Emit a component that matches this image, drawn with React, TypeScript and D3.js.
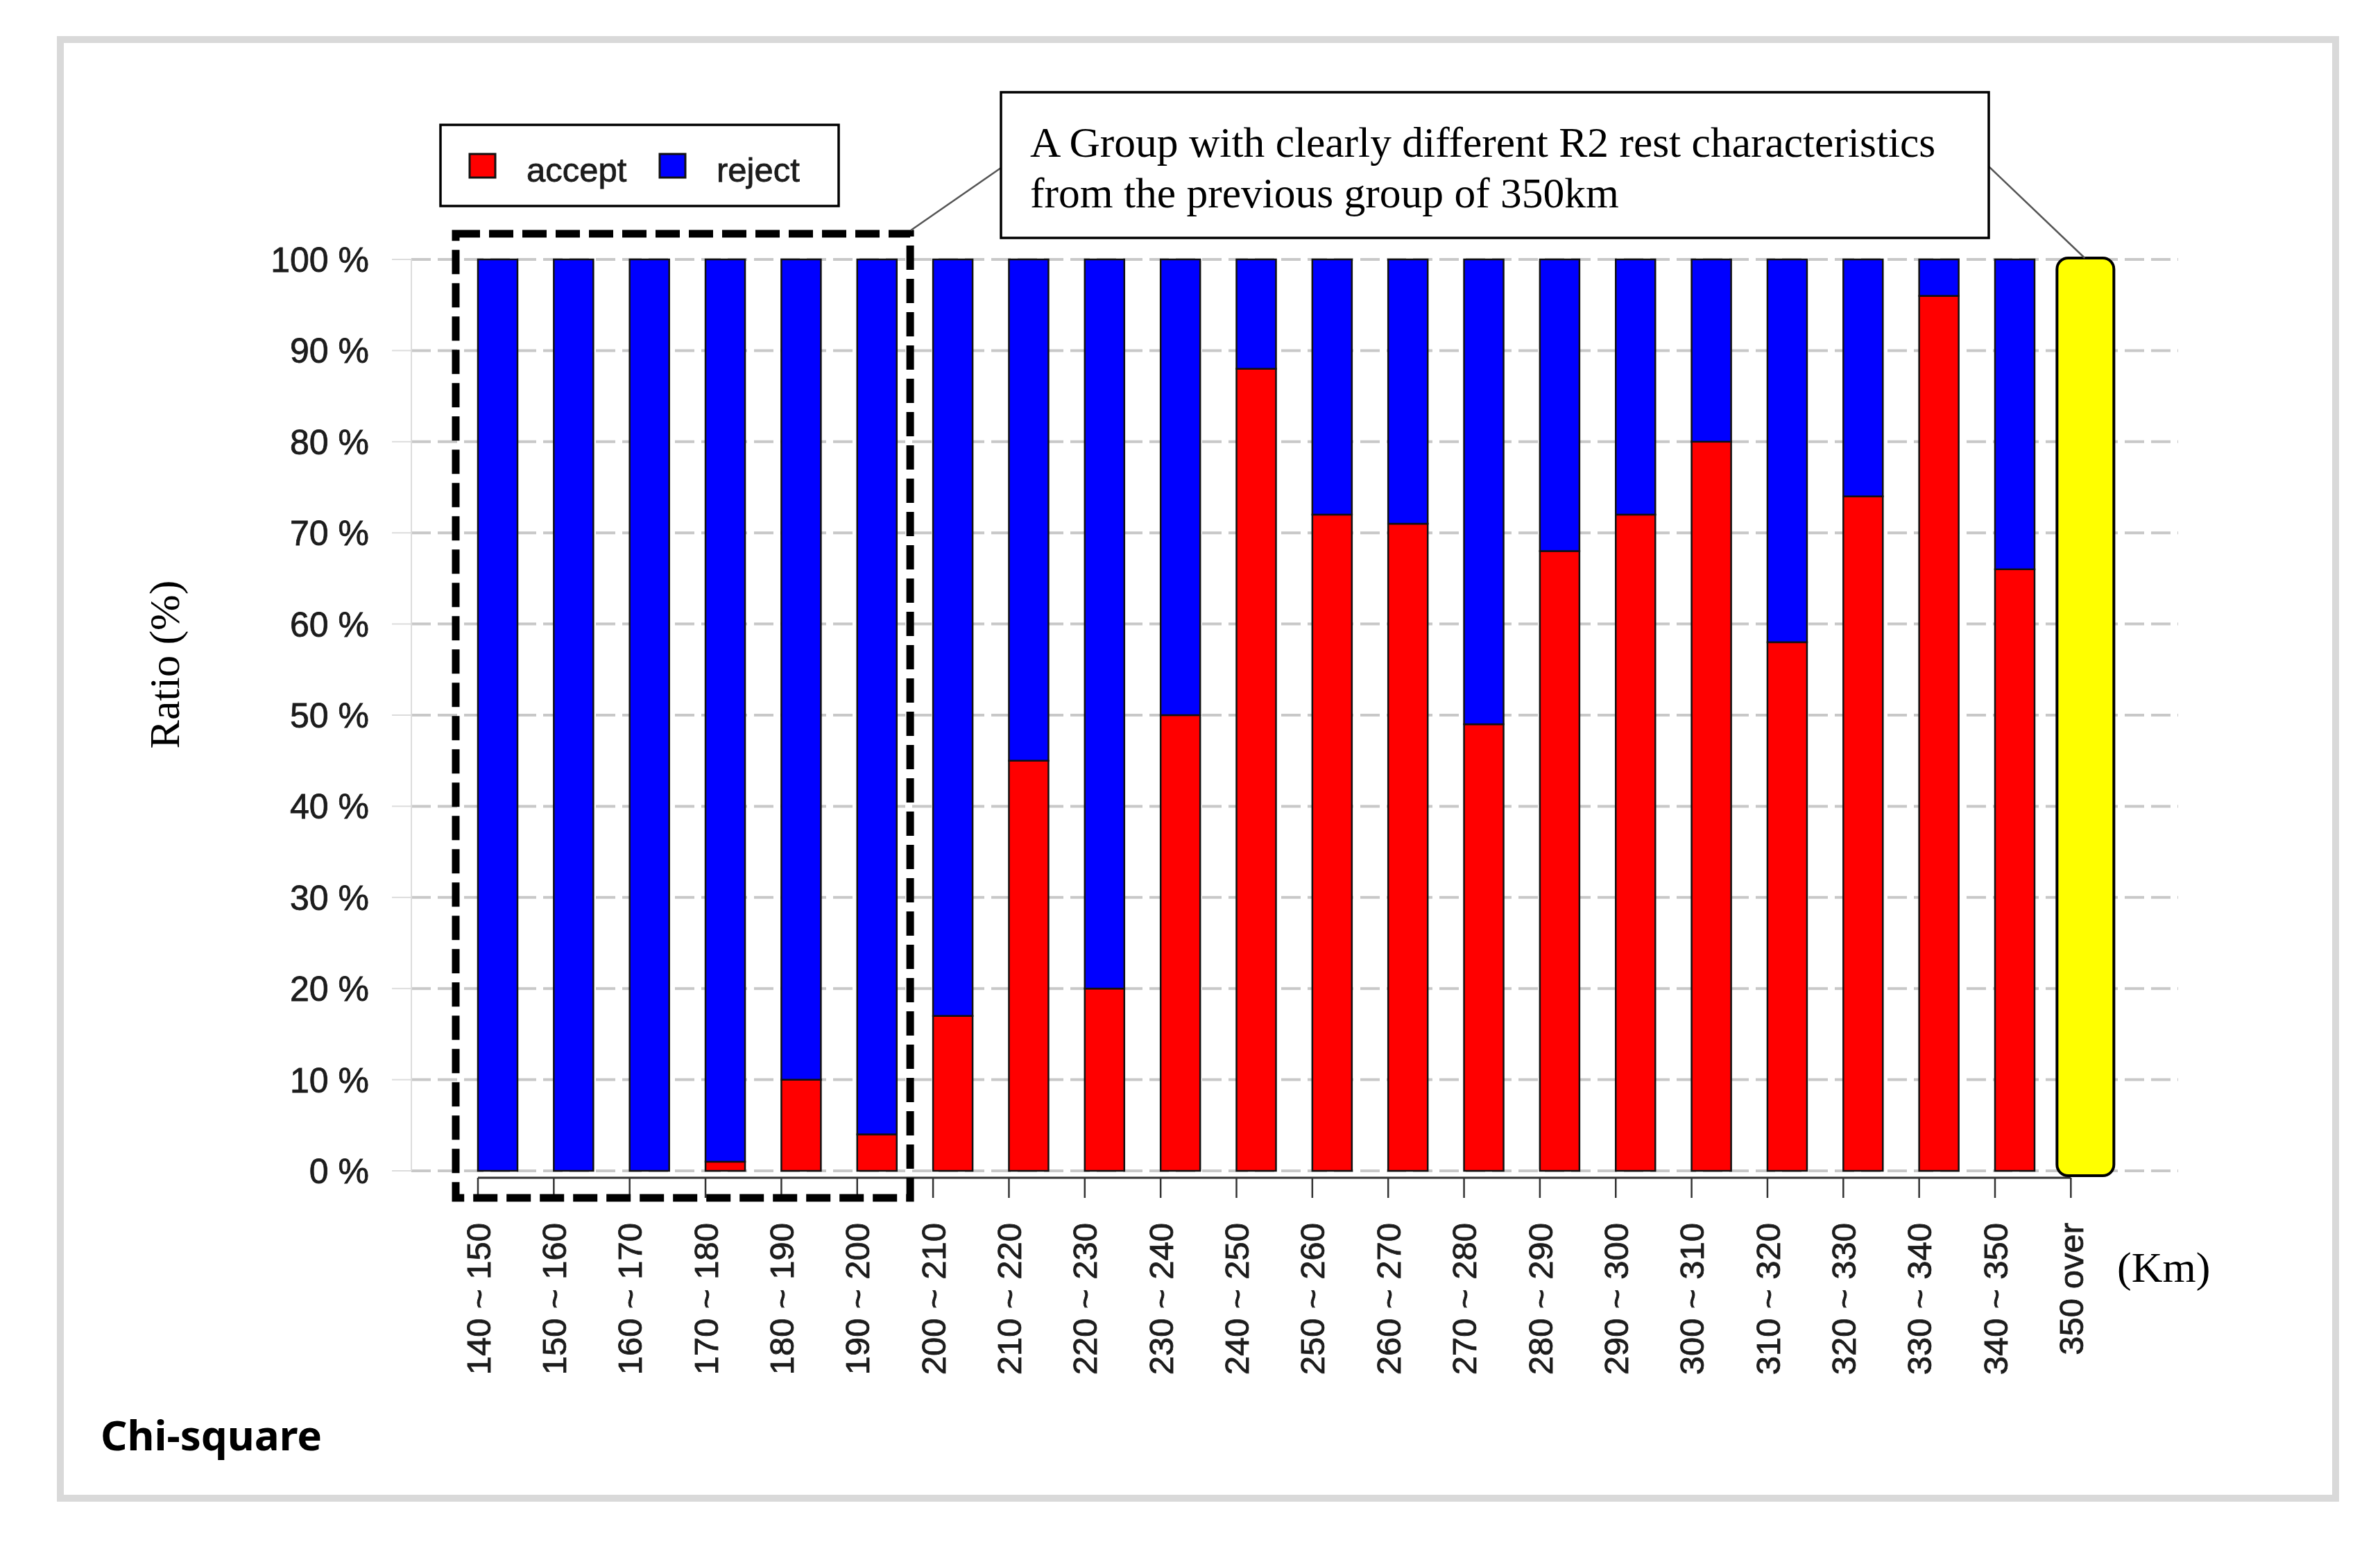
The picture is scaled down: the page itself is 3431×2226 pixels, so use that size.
import React from 'react';
import * as d3 from 'd3';

// distance groups (km) - last one is the highlighted "350 over" group without bar
const categories = [
    '140 ~ 150', '150 ~ 160', '160 ~ 170', '170 ~ 180', '180 ~ 190', '190 ~ 200',
    '200 ~ 210', '210 ~ 220', '220 ~ 230', '230 ~ 240', '240 ~ 250', '250 ~ 260',
    '260 ~ 270', '270 ~ 280', '280 ~ 290', '290 ~ 300', '300 ~ 310', '310 ~ 320',
    '320 ~ 330', '330 ~ 340', '340 ~ 350', '350 over',
];
const acceptPct = [0, 0, 0, 1, 10, 4, 17, 45, 20, 50, 88, 72, 71, 49, 68, 72, 80, 58, 74, 96, 66];
const rejectPct = [100, 100, 100, 99, 90, 96, 83, 55, 80, 50, 12, 28, 29, 51, 32, 28, 20, 42, 26, 4, 34];
const yTicks = [0, 10, 20, 30, 40, 50, 60, 70, 80, 90, 100];
const seriesKeys = ['accept', 'reject'];
const seriesColors = ['#ff0000', '#0000ff'];
const noteLines = [
    'A Group with clearly different R2 rest characteristics',
    'from the previous group of 350km',
];

const W = 3431;
const H = 2226;
const SANS = '"Liberation Sans", Arial, sans-serif';
const SERIF = '"Liberation Serif", "Times New Roman", serif';
const INK = '#1c1c1c';

const App: React.FC = () => {
    const step = 109.35;
    const barW = 57;
    const pad = 1 - barW / step;
    const x0 = 689;
    const x = d3.scaleBand<string>()
        .domain(categories)
        .range([x0, x0 + step * (categories.length - pad)])
        .paddingInner(pad)
        .paddingOuter(0);

    const y = d3.scaleLinear().domain([0, 100]).range([1688, 374]);

    const rows = acceptPct.map((a, i) => ({ cat: categories[i], accept: a, reject: rejectPct[i] }));
    const stacked = d3.stack<any>().keys(seriesKeys)(rows);

    const axisX = 593;
    const gridRight = 3140;
    const xAxisY = y(0) + 10;
    const lastCat = categories[categories.length - 1];
    const first = x(categories[0])!;
    const seventh = x(categories[6])!;
    const last = x(lastCat)!;

    const boxL = first - 32;
    const boxR = seventh - 33;
    const boxT = y(100) - 37;
    const boxB = xAxisY + 29;

    const note = { x: 1443, y: 133, w: 1424, h: 210 };
    const legend = { x: 635, y: 180, w: 574, h: 117 };

    return (
        <svg width={W} height={H} style={{ position: 'absolute', left: 0, top: 0, background: '#fff' }}>
            <rect x={87} y={57} width={3280} height={2103} fill="#fff" stroke="#d9d9d9" strokeWidth={10} />

            {/* grid + y axis */}
            {yTicks.map(t => (
                <g key={t}>
                    <line x1={axisX} x2={gridRight} y1={y(t)} y2={y(t)}
                        stroke="#c8c8c8" strokeWidth={4} strokeDasharray="28 10" />
                    <line x1={565} x2={axisX} y1={y(t)} y2={y(t)} stroke="#dcdcdc" strokeWidth={2} />
                    <text x={532} y={y(t)} dy="0.36em" textAnchor="end"
                        fontFamily={SANS} fontSize={50} fill={INK} stroke={INK} strokeWidth={0.8}>{`${t} %`}</text>
                </g>
            ))}
            <line x1={axisX} x2={axisX} y1={y(100)} y2={y(0)} stroke="#dcdcdc" strokeWidth={2} />

            {/* stacked bars */}
            {stacked.map((s, si) => (
                <g key={s.key} fill={seriesColors[si]} stroke="#111" strokeWidth={2.5}>
                    {s.map((d, i) => (d[1] - d[0] > 0 ? (
                        <rect key={i} x={x(d.data.cat)} y={y(d[1])} width={x.bandwidth()}
                            height={y(d[0]) - y(d[1])} />
                    ) : null))}
                </g>
            ))}

            {/* x axis */}
            <line x1={first} x2={last} y1={xAxisY} y2={xAxisY} stroke="#333" strokeWidth={3} />
            {categories.map(c => (
                <g key={c}>
                    <line x1={x(c)} x2={x(c)} y1={xAxisY} y2={xAxisY + 29} stroke="#333" strokeWidth={2.5} />
                    <text transform={`translate(${x(c)},1763) rotate(-90)`} dy="0.36em" textAnchor="end"
                        fontFamily={SANS} fontSize={49} fill={INK} stroke={INK} strokeWidth={0.8}>{c}</text>
                </g>
            ))}

            {/* highlighted last group */}
            <rect x={last - 20} y={y(100) - 2} width={x.bandwidth() + 25} height={y(0) - y(100) + 9}
                rx={16} fill="#ffff00" stroke="#000" strokeWidth={4} />

            {/* dashed group box */}
            <rect x={boxL} y={boxT} width={boxR - boxL} height={boxB - boxT}
                fill="none" stroke="#000" strokeWidth={11} strokeDasharray="35 13" />

            {/* callout */}
            <line x1={boxR + 1} y1={boxT - 5} x2={note.x} y2={242} stroke="#555" strokeWidth={2.5} />
            <line x1={note.x + note.w} y1={240} x2={last + 20} y2={y(100) - 2} stroke="#555" strokeWidth={2.5} />
            <rect x={note.x} y={note.y} width={note.w} height={note.h} fill="#fff" stroke="#000" strokeWidth={3.5} />
            {noteLines.map((l, i) => (
                <text key={i} x={note.x + 42} y={226 + i * 73} fontFamily={SERIF} fontSize={61.5} fill="#000">{l}</text>
            ))}

            {/* legend */}
            <rect x={legend.x} y={legend.y} width={legend.w} height={legend.h} fill="#fff" stroke="#000" strokeWidth={3.5} />
            {seriesKeys.map((k, i) => (
                <g key={k}>
                    <rect x={677 + i * 274} y={222} width={37} height={34} fill={seriesColors[i]} stroke="#111" strokeWidth={3} />
                    <text x={759 + i * 274} y={262} fontFamily={SANS} fontSize={49} fill={INK} stroke={INK} strokeWidth={0.8}>{k}</text>
                </g>
            ))}

            {/* axis titles */}
            <text transform="translate(258,958) rotate(-90)" textAnchor="middle"
                fontFamily={SERIF} fontSize={62} fill="#000">Ratio (%)</text>
            <text x={3052} y={1848} fontFamily={SERIF} fontSize={62} fill="#000">(Km)</text>

            <text x={145} y={2091} fontFamily='"Noto Sans", sans-serif' fontWeight="bold" fontSize={60} fill="#000">Chi-square</text>
        </svg>
    );
};

export default App;
